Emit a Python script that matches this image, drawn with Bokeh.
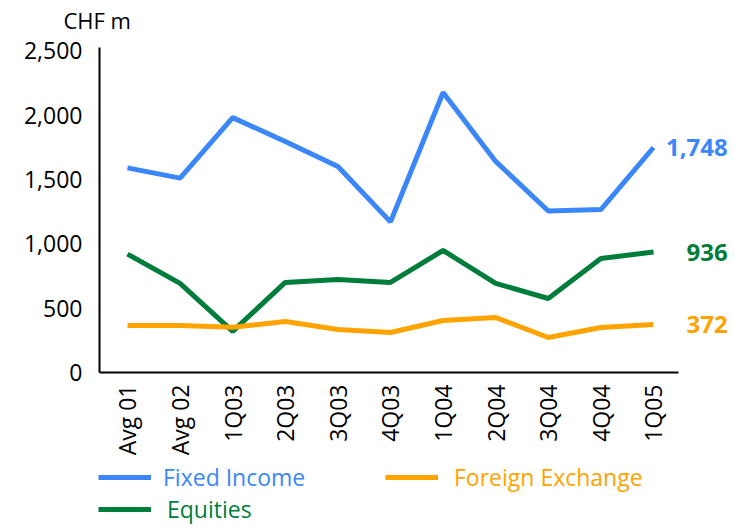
import math
from bokeh.plotting import figure
from bokeh.models import (Range1d, Legend, LegendItem, Label, NumeralTickFormatter,
                          FixedTicker, LinearAxis)
from bokeh.embed import file_html
from bokeh.resources import INLINE

categories = ["Avg 01", "Avg 02", "1Q03", "2Q03", "3Q03", "4Q03", "1Q04", "2Q04", "3Q04", "4Q04", "1Q05"]
fixed_income = [1590, 1510, 1980, 1795, 1600, 1170, 2175, 1640, 1255, 1266, 1748]
equities = [920, 692, 320, 700, 723, 700, 948, 692, 575, 886, 936]
foreign_exchange = [365, 365, 352, 396, 334, 311, 404, 427, 272, 350, 372]
y_ticks = [0, 500, 1000, 1500, 2000, 2500]
end_labels = ["1,748", "936", "372"]

BLUE = "#3B87FA"
ORANGE = "#FFA300"
GREEN = "#007D3A"
FONT = "Open Sans"

xs = list(range(len(categories)))

p = figure(width=734, height=528, x_range=Range1d(-2.414, 11.54), y_range=Range1d(-1212, 2890),
           output_backend="svg", toolbar_location=None, x_axis_location=None, y_axis_location=None,
           min_border_left=0, min_border_right=0, min_border_top=0, min_border_bottom=0)
p.outline_line_color = None
p.grid.visible = False

r_fi = p.line(xs, fixed_income, line_color=BLUE, line_width=5)
r_eq = p.line(xs, equities, line_color=GREEN, line_width=5)
r_fx = p.line(xs, foreign_exchange, line_color=ORANGE, line_width=5)

xaxis = LinearAxis(fixed_location=0, bounds=(-0.532, 10.475),
                   ticker=FixedTicker(ticks=xs),
                   major_label_overrides={i: c for i, c in zip(xs, categories)},
                   major_label_orientation=math.pi / 2, major_label_standoff=12)
yaxis = LinearAxis(fixed_location=-0.532, bounds=(0, 2525),
                   ticker=FixedTicker(ticks=y_ticks),
                   formatter=NumeralTickFormatter(format="0,0"), major_label_standoff=17)
for ax in (xaxis, yaxis):
    ax.axis_line_color = "black"
    ax.axis_line_width = 2
    ax.major_tick_line_color = None
    ax.minor_tick_line_color = None
    ax.major_tick_out = 0
    ax.major_tick_in = 0
    ax.major_label_text_font = FONT
    ax.major_label_text_font_size = "23px"
    ax.major_label_text_color = "black"
p.add_layout(xaxis, "below")
p.add_layout(yaxis, "left")

# unit label
p.add_layout(Label(x=-1.217, y=2735, text="CHF m", text_font=FONT, text_font_size="22px",
                   text_color="black", text_baseline="middle", text_align="left"))

# end labels
for vals, col, txt in ((fixed_income, BLUE, end_labels[0]), (equities, GREEN, end_labels[1]),
                       (foreign_exchange, ORANGE, end_labels[2])):
    p.add_layout(Label(x=11.41, y=vals[-1], text=txt, text_font=FONT, text_font_size="24px",
                       text_font_style="bold", text_color=col, text_baseline="middle", text_align="right"))

def add_legend(label, renderer, color, loc, standoff):
    leg = Legend(items=[LegendItem(label=label, renderers=[renderer])], location=loc,
                 orientation="horizontal", glyph_width=53, glyph_height=20, label_height=20,
                 label_standoff=standoff, padding=0, margin=0, spacing=0,
                 border_line_color=None, background_fill_alpha=0,
                 label_text_font=FONT, label_text_font_size="23px", label_text_color=color)
    p.add_layout(leg, "center")

add_legend("Fixed Income", r_fi, BLUE, (98, 35), 12)
add_legend("Foreign Exchange", r_fx, ORANGE, (385, 35), 16)
add_legend("Equities", r_eq, GREEN, (98, 3), 16)

open("out.html", "w").write(file_html(p, INLINE))
